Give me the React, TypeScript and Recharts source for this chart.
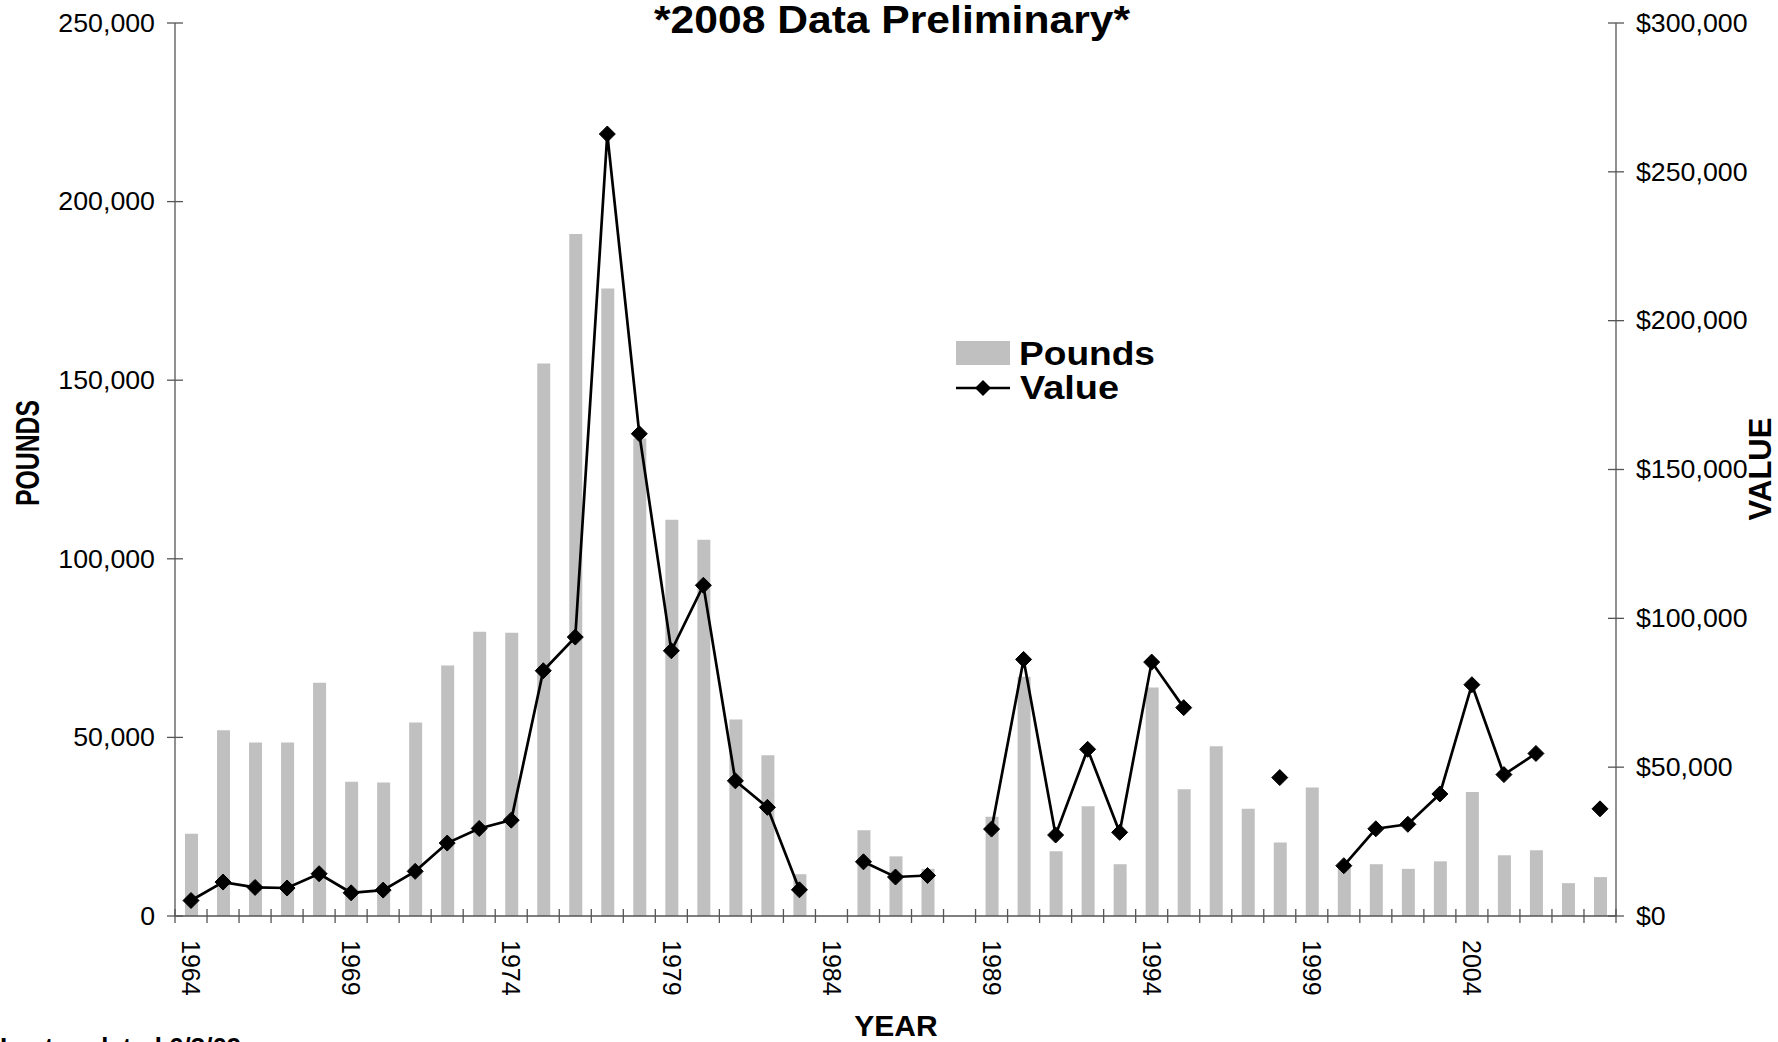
import React from 'react';
import { ComposedChart, Bar, Line, XAxis, YAxis, Legend } from 'recharts';

const years = [
  '1964', '1965', '1966', '1967', '1968', '1969', '1970', '1971', '1972', '1973',
  '1974', '1975', '1976', '1977', '1978', '1979', '1980', '1981', '1982', '1983',
  '1984', '1985', '1986', '1987', '1988', '1989', '1990', '1991', '1992', '1993',
  '1994', '1995', '1996', '1997', '1998', '1999', '2000', '2001', '2002', '2003',
  '2004', '2005', '2006', '2007', '2008',
];

const pounds: (number | null)[] = [
  23000, 52000, 48600, 48600, 65300, 37600, 37400, 54200, 70100, 79600,
  79300, 154700, 190900, 175700, 133700, 110900, 105300, 55000, 45000, 11700,
  null, 24000, 16700, 13200, null, 27800, 67000, 18100, 30700, 14500,
  64000, 35500, 47500, 30000, 20600, 36000, 13500, 14500, 13200, 15300,
  34700, 17000, 18400, 9200, 10900,
];

const values: (number | null)[] = [
  5200, 11400, 9600, 9400, 14200, 7800, 8700, 15000, 24500, 29400,
  32200, 82400, 93700, 262700, 162000, 89100, 111100, 45400, 36500, 8800,
  null, 18200, 13100, 13600, null, 29200, 86200, 27200, 56000, 28100,
  85300, 70000, null, null, 46500, null, 16900, 29300, 30800, 41000,
  77700, 47500, 54600, null, 36000,
];

const leftTicks = [0, 50000, 100000, 150000, 200000, 250000];
const rightTicks = [0, 50000, 100000, 150000, 200000, 250000, 300000];
const labelEvery = 5;

const data = years.map((y, i) => ({ year: y, pounds: pounds[i], value: values[i] }));

const FONT = '"Liberation Sans", Arial, Helvetica, sans-serif';
const AXIS_COLOR = '#555';
const W = 1778;
const H = 1042;
const LEFT_W = 175;
const RIGHT_W = 162;
const TOP = 23;
const X_H = 126;
const PLOT_W = W - LEFT_W - RIGHT_W;

const fmt = (v: number) => v.toLocaleString('en-US');

const LeftTick = (props: any) => {
  const { x, y, payload } = props;
  return (
    <g>
      <line x1={x + 12} x2={x + 28} y1={y} y2={y} stroke={AXIS_COLOR} strokeWidth={1.3} />
      <text
        transform={`translate(${x},${y}) scale(1.07,1)`}
        textAnchor="end"
        dy="0.35em"
        fontSize={25}
        fontFamily={FONT}
        fill="#000"
      >
        {fmt(payload.value)}
      </text>
    </g>
  );
};

const RightTick = (props: any) => {
  const { x, y, payload } = props;
  return (
    <g>
      <line x1={x - 28} x2={x - 12} y1={y} y2={y} stroke={AXIS_COLOR} strokeWidth={1.3} />
      <text
        transform={`translate(${x},${y}) scale(1.07,1)`}
        textAnchor="start"
        dy="0.35em"
        fontSize={25}
        fontFamily={FONT}
        fill="#000"
      >
        {'$' + fmt(payload.value)}
      </text>
    </g>
  );
};

const BottomTick = (props: any) => {
  const { x, y, payload, index } = props;
  const half = payload && payload.offset ? payload.offset : PLOT_W / years.length / 2;
  const axisY = y - 24;
  return (
    <g>
      {index === 0 && (
        <line x1={x - half} x2={x - half} y1={axisY - 7} y2={axisY + 7} stroke={AXIS_COLOR} strokeWidth={1.3} />
      )}
      <line x1={x + half} x2={x + half} y1={axisY - 7} y2={axisY + 7} stroke={AXIS_COLOR} strokeWidth={1.3} />
      {index % labelEvery === 0 && (
        <text
          transform={`translate(${x},${y}) rotate(90)`}
          textAnchor="start"
          dy="0.35em"
          fontSize={25}
          fontFamily={FONT}
          fill="#000"
        >
          {payload.value}
        </text>
      )}
    </g>
  );
};

const Diamond = (props: any) => {
  const { cx, cy, value } = props;
  if (cx == null || cy == null || value == null) return null;
  const s = 8;
  return (
    <path
      d={`M${cx},${cy - s} L${cx + s},${cy} L${cx},${cy + s} L${cx - s},${cy} Z`}
      fill="#000"
      stroke="#000"
      strokeWidth={1}
    />
  );
};

const renderLegend = () => (
  <svg width={230} height={80} style={{ display: 'block' }}>
    <rect x={6} y={11} width={54} height={24} fill="#c0c0c0" />
    <text x={69} y={35} fontSize={33} fontWeight="bold" fontFamily={FONT} fill="#000" textLength={136} lengthAdjust="spacingAndGlyphs">
      Pounds
    </text>
    <line x1={6} x2={60} y1={58} y2={58} stroke="#000" strokeWidth={2.5} />
    <path d="M33,50 L41,58 L33,66 L25,58 Z" fill="#000" />
    <text x={70} y={69} fontSize={33} fontWeight="bold" fontFamily={FONT} fill="#000" textLength={99} lengthAdjust="spacingAndGlyphs">
      Value
    </text>
  </svg>
);

export default function App() {
  return (
    <div style={{ position: 'absolute', left: 0, top: 0, width: W, height: H, background: '#fff', overflow: 'hidden' }}>
      <ComposedChart
        width={W}
        height={H}
        data={data}
        margin={{ top: TOP, right: 0, bottom: 0, left: 0 }}
        style={{ fontFamily: FONT }}
      >
        <XAxis
          dataKey="year"
          height={X_H}
          interval={0}
          axisLine={{ stroke: AXIS_COLOR, strokeWidth: 1.3 }}
          tickLine={false}
          tickSize={0}
          tickMargin={24}
          tick={<BottomTick />}
        />
        <YAxis
          yAxisId="left"
          orientation="left"
          width={LEFT_W}
          domain={[0, 250000]}
          ticks={leftTicks}
          interval={0}
          axisLine={{ stroke: AXIS_COLOR, strokeWidth: 1.3 }}
          tickLine={false}
          tickSize={8}
          tickMargin={12}
          tick={<LeftTick />}
        />
        <YAxis
          yAxisId="right"
          orientation="right"
          width={RIGHT_W}
          domain={[0, 300000]}
          ticks={rightTicks}
          interval={0}
          axisLine={{ stroke: AXIS_COLOR, strokeWidth: 1.3 }}
          tickLine={false}
          tickSize={8}
          tickMargin={12}
          tick={<RightTick />}
        />
        <Legend
          layout="horizontal"
          verticalAlign="middle"
          align="center"
          content={renderLegend}
          wrapperStyle={{ position: 'absolute', left: 950, top: 330, width: 230, height: 80 }}
        />
        <Bar yAxisId="left" dataKey="pounds" name="Pounds" fill="#c0c0c0" barSize={13} isAnimationActive={false} />
        <Line
          yAxisId="right"
          dataKey="value"
          name="Value"
          stroke="#000"
          strokeWidth={2.7}
          dot={<Diamond />}
          activeDot={false}
          connectNulls={false}
          isAnimationActive={false}
        />
      </ComposedChart>
      <svg
        width={W}
        height={H}
        style={{ position: 'absolute', left: 0, top: 0, pointerEvents: 'none' }}
      >
        <text x={892} y={33} textAnchor="middle" fontSize={38} fontWeight="bold" fontFamily={FONT} fill="#000" textLength={476} lengthAdjust="spacingAndGlyphs">
          *2008 Data Preliminary*
        </text>
        <text transform="translate(39,453) rotate(-90)" textAnchor="middle" fontSize={34} fontWeight="bold" fontFamily={FONT} fill="#000" textLength={106} lengthAdjust="spacingAndGlyphs">
          POUNDS
        </text>
        <text transform="translate(1771,469) rotate(-90)" textAnchor="middle" fontSize={31} fontWeight="bold" fontFamily={FONT} fill="#000">
          VALUE
        </text>
        <text x={896} y={1036} textAnchor="middle" fontSize={30} fontWeight="bold" fontFamily={FONT} fill="#000">
          YEAR
        </text>
        <text x={0} y={1056} fontSize={26} fontWeight="bold" fontFamily={FONT} fill="#000">
          Last updated 6/3/09
        </text>
      </svg>
    </div>
  );
}
